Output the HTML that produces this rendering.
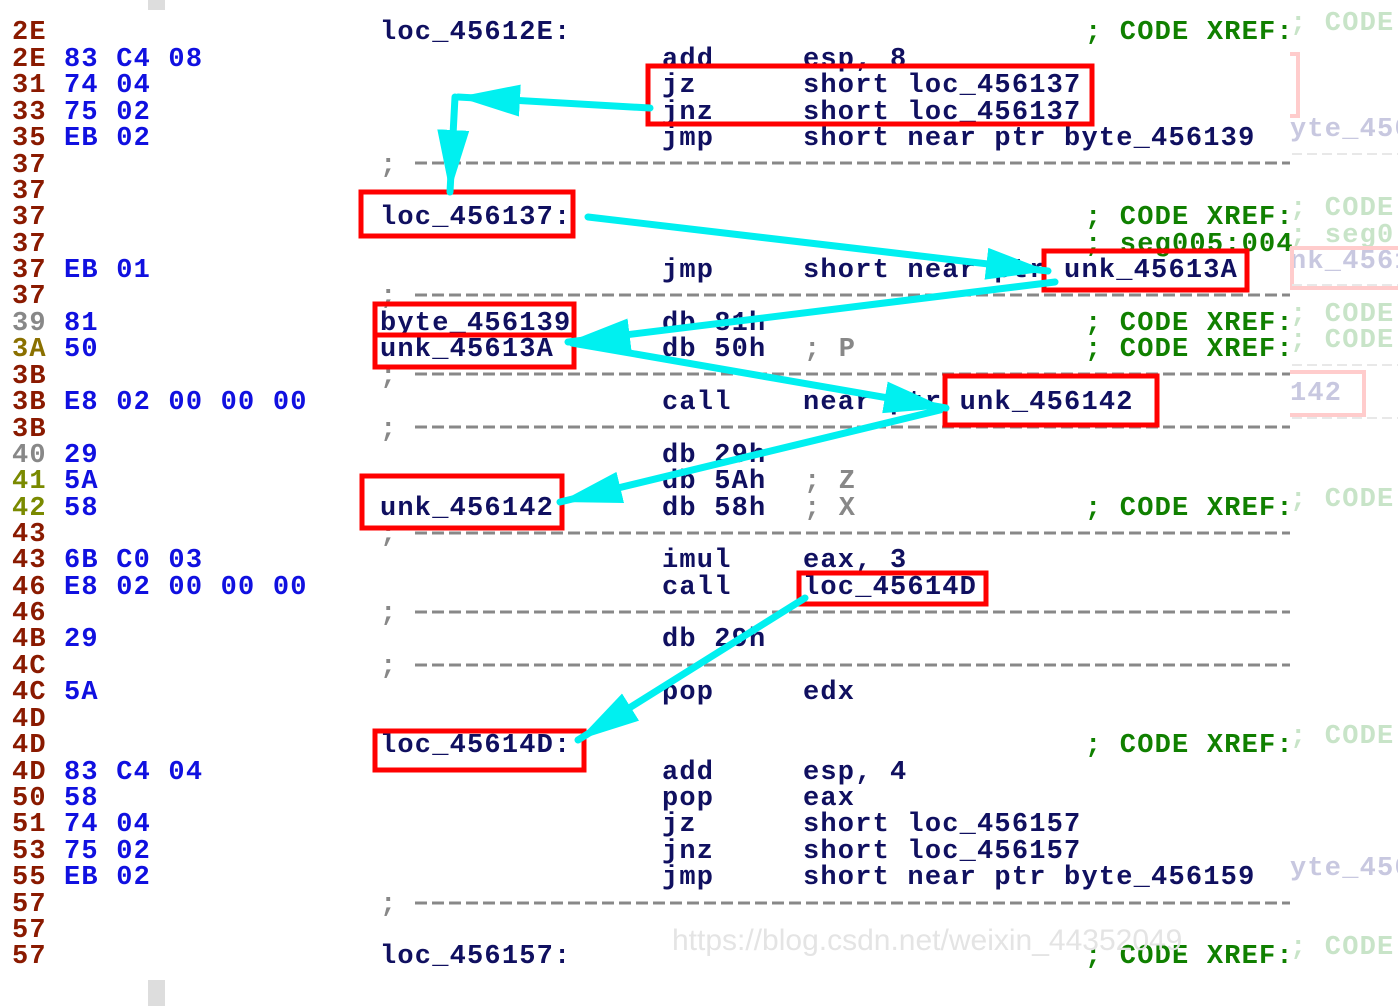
<!DOCTYPE html>
<html><head><meta charset="utf-8"><style>
html,body{margin:0;padding:0;background:#fff;width:1398px;height:1006px;overflow:hidden}
svg{display:block}
text{font-family:"Liberation Mono",monospace;font-weight:bold;font-size:27px;letter-spacing:1.2px}
.a{fill:#8a1a00}.b{fill:#1010e0}.k{fill:#101060}.g{fill:#108000}.s{fill:#888}
.fa{fill:#c8c8e0}.fg{fill:#c8e4c8}
</style></head><body>
<svg width="1398" height="1006" viewBox="0 0 1398 1006" xmlns="http://www.w3.org/2000/svg">
<defs>
<marker id="h" markerUnits="userSpaceOnUse" markerWidth="70" markerHeight="44" refX="62" refY="20" orient="auto">
<path d="M0,4 L62,20 L0,36 Z" fill="#00f0f0"/>
</marker>
</defs>
<rect x="148" y="0" width="17" height="10" fill="#ddd"/>
<rect x="148" y="980" width="17" height="26" fill="#ddd"/>
<g id="rows">
<text x="12" y="39" class="a">2E</text><text x="380" y="39" class="k">loc_45612E:</text><text x="1085" y="39" class="g">; CODE XREF:</text>
<text x="12" y="66" class="a">2E</text><text x="64" y="66" class="b">83 C4 08</text><text x="662" y="66" class="k">add</text><text x="803" y="66" class="k">esp, 8</text>
<text x="12" y="92" class="a">31</text><text x="64" y="92" class="b">74 04</text><text x="662" y="92" class="k">jz</text><text x="803" y="92" class="k">short loc_456137</text>
<text x="12" y="119" class="a">33</text><text x="64" y="119" class="b">75 02</text><text x="662" y="119" class="k">jnz</text><text x="803" y="119" class="k">short loc_456137</text>
<text x="12" y="145" class="a">35</text><text x="64" y="145" class="b">EB 02</text><text x="662" y="145" class="k">jmp</text><text x="803" y="145" class="k">short near ptr byte_456139</text>
<text x="12" y="172" class="a">37</text>
<text x="12" y="198" class="a">37</text>
<text x="12" y="224" class="a">37</text><text x="380" y="224" class="k">loc_456137:</text><text x="1085" y="224" class="g">; CODE XREF:</text>
<text x="12" y="251" class="a">37</text><text x="1085" y="251" class="g">; seg005:004</text>
<text x="12" y="277" class="a">37</text><text x="64" y="277" class="b">EB 01</text><text x="662" y="277" class="k">jmp</text><text x="803" y="277" class="k">short near ptr unk_45613A</text>
<text x="12" y="303" class="a">37</text>
<text x="12" y="330" fill="#888">39</text><text x="64" y="330" class="b">81</text><text x="380" y="330" class="k">byte_456139</text><text x="662" y="330" class="k">db 81h</text><text x="1085" y="330" class="g">; CODE XREF:</text>
<text x="12" y="356" fill="#8a7000">3A</text><text x="64" y="356" class="b">50</text><text x="380" y="356" class="k">unk_45613A</text><text x="662" y="356" class="k">db  50h</text><text x="804" y="356" class="s">; P</text><text x="1085" y="356" class="g">; CODE XREF:</text>
<text x="12" y="383" class="a">3B</text>
<text x="12" y="409" class="a">3B</text><text x="64" y="409" class="b">E8 02 00 00 00</text><text x="662" y="409" class="k">call</text><text x="803" y="409" class="k">near ptr unk_456142</text>
<text x="12" y="436" class="a">3B</text>
<text x="12" y="462" fill="#888">40</text><text x="64" y="462" class="b">29</text><text x="662" y="462" class="k">db 29h</text>
<text x="12" y="488" fill="#7a8a00">41</text><text x="64" y="488" class="b">5A</text><text x="662" y="488" class="k">db  5Ah</text><text x="804" y="488" class="s">; Z</text>
<text x="12" y="515" fill="#7a8a00">42</text><text x="64" y="515" class="b">58</text><text x="380" y="515" class="k">unk_456142</text><text x="662" y="515" class="k">db  58h</text><text x="804" y="515" class="s">; X</text><text x="1085" y="515" class="g">; CODE XREF:</text>
<text x="12" y="541" class="a">43</text>
<text x="12" y="567" class="a">43</text><text x="64" y="567" class="b">6B C0 03</text><text x="662" y="567" class="k">imul</text><text x="803" y="567" class="k">eax, 3</text>
<text x="12" y="594" class="a">46</text><text x="64" y="594" class="b">E8 02 00 00 00</text><text x="662" y="594" class="k">call</text><text x="803" y="594" class="k">loc_45614D</text>
<text x="12" y="620" class="a">46</text>
<text x="12" y="646" class="a">4B</text><text x="64" y="646" class="b">29</text><text x="662" y="646" class="k">db 29h</text>
<text x="12" y="673" class="a">4C</text>
<text x="12" y="699" class="a">4C</text><text x="64" y="699" class="b">5A</text><text x="662" y="699" class="k">pop</text><text x="803" y="699" class="k">edx</text>
<text x="12" y="726" class="a">4D</text>
<text x="12" y="752" class="a">4D</text><text x="380" y="752" class="k">loc_45614D:</text><text x="1085" y="752" class="g">; CODE XREF:</text>
<text x="12" y="779" class="a">4D</text><text x="64" y="779" class="b">83 C4 04</text><text x="662" y="779" class="k">add</text><text x="803" y="779" class="k">esp, 4</text>
<text x="12" y="805" class="a">50</text><text x="64" y="805" class="b">58</text><text x="662" y="805" class="k">pop</text><text x="803" y="805" class="k">eax</text>
<text x="12" y="831" class="a">51</text><text x="64" y="831" class="b">74 04</text><text x="662" y="831" class="k">jz</text><text x="803" y="831" class="k">short loc_456157</text>
<text x="12" y="858" class="a">53</text><text x="64" y="858" class="b">75 02</text><text x="662" y="858" class="k">jnz</text><text x="803" y="858" class="k">short loc_456157</text>
<text x="12" y="884" class="a">55</text><text x="64" y="884" class="b">EB 02</text><text x="662" y="884" class="k">jmp</text><text x="803" y="884" class="k">short near ptr byte_456159</text>
<text x="12" y="911" class="a">57</text>
<text x="12" y="937" class="a">57</text>
<text x="12" y="963" class="a">57</text><text x="380" y="963" class="k">loc_456157:</text><text x="1085" y="963" class="g">; CODE XREF:</text>
</g>
<g fill="#888">
<text x="380" y="172">;</text><text x="380" y="303">;</text><text x="380" y="383">;</text><text x="380" y="436">;</text><text x="380" y="541">;</text><text x="380" y="620">;</text><text x="380" y="673">;</text><text x="380" y="911">;</text>
</g>
<g stroke="#888" stroke-width="3" stroke-dasharray="12,5">
<line x1="415" y1="163" x2="1290" y2="163"/><line x1="415" y1="295" x2="1290" y2="295"/><line x1="415" y1="374" x2="1290" y2="374"/><line x1="415" y1="427" x2="1290" y2="427"/><line x1="415" y1="533" x2="1290" y2="533"/><line x1="415" y1="612" x2="1290" y2="612"/><line x1="415" y1="665" x2="1290" y2="665"/><line x1="415" y1="903" x2="1290" y2="903"/>
</g>
<g>
<text x="1290" y="30" class="fg">; CODE</text>
<text x="1290" y="136" class="fa">yte_456</text>
<text x="1290" y="215" class="fg">; CODE</text>
<text x="1290" y="242" class="fg">; seg0</text>
<text x="1290" y="268" class="fa">nk_4561</text>
<text x="1290" y="321" class="fg">; CODE</text>
<text x="1290" y="347" class="fg">; CODE</text>
<text x="1290" y="400" class="fa">142</text>
<text x="1290" y="506" class="fg">; CODE</text>
<text x="1290" y="743" class="fg">; CODE</text>
<text x="1290" y="875" class="fa">yte_456</text>
<text x="1290" y="954" class="fg">; CODE</text>
</g>
<g fill="none" stroke="#fcc" stroke-width="4">
<path d="M1290,54 H1298 V116 H1290"/>
<rect x="1292" y="248" width="110" height="40"/>
<path d="M1290,372 H1364 V415 H1290"/>
</g>
<g fill="none" stroke="#e8e8e8" stroke-width="2" stroke-dasharray="10,5">
<line x1="1292" y1="154" x2="1398" y2="154"/><line x1="1292" y1="285" x2="1398" y2="285"/><line x1="1292" y1="365" x2="1398" y2="365"/><line x1="1292" y1="418" x2="1398" y2="418"/>
</g>
<text x="672" y="950" fill="#e4e4e4" style="font-family:'Liberation Sans',sans-serif;font-weight:normal;font-size:30px;letter-spacing:0">https://blog.csdn.net/weixin_44352049</text>
<g fill="none" stroke="#f00" stroke-width="5">
<rect x="648" y="66" width="444" height="58"/>
<rect x="361" y="192" width="212" height="44"/>
<rect x="1044" y="251" width="203" height="39"/>
<rect x="375" y="304" width="199" height="31"/>
<rect x="375" y="335" width="199" height="32"/>
<rect x="945" y="376" width="212" height="49"/>
<rect x="362" y="476" width="200" height="52"/>
<rect x="799" y="573" width="187" height="31"/>
<rect x="375" y="731" width="209" height="39"/>
</g>
<g stroke="#00f0f0" stroke-width="7" fill="none" stroke-linecap="round">
<line x1="650" y1="108" x2="458" y2="97" marker-end="url(#h)"/>
<line x1="455" y1="97" x2="450" y2="192" marker-end="url(#h)"/>
<line x1="588" y1="217" x2="1048" y2="271" marker-end="url(#h)"/>
<line x1="1055" y1="282" x2="568" y2="342" marker-end="url(#h)"/>
<line x1="572" y1="343" x2="946" y2="408" marker-end="url(#h)"/>
<line x1="940" y1="410" x2="560" y2="502" marker-end="url(#h)"/>
<line x1="805" y1="598" x2="578" y2="740" marker-end="url(#h)"/>
</g>
</svg>
</body></html>
